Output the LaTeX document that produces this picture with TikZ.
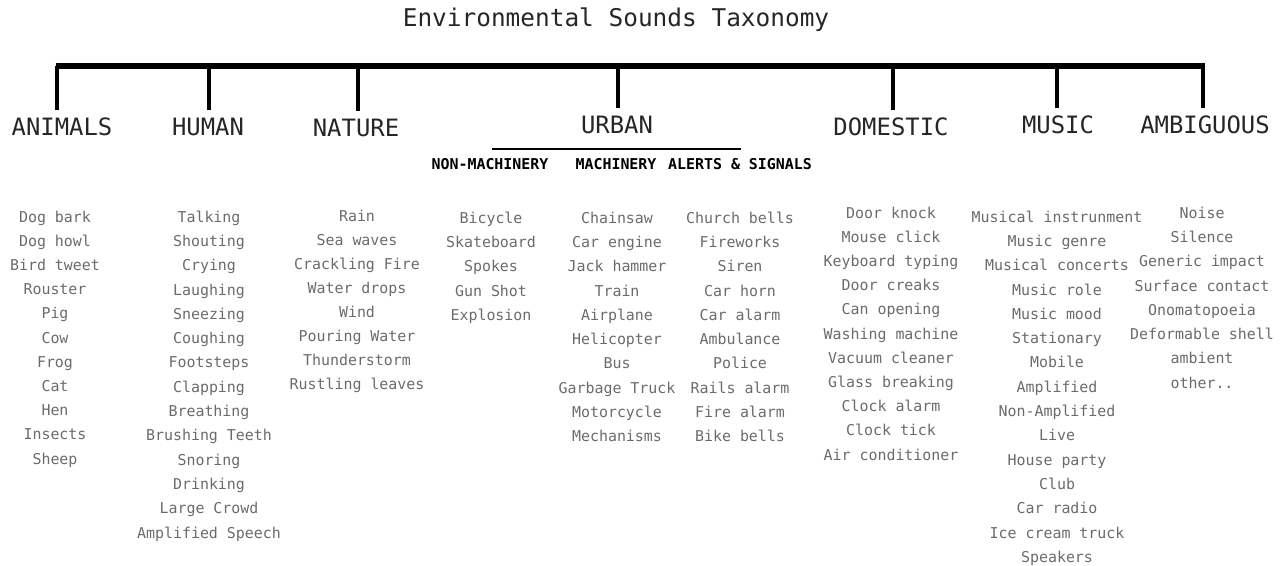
\documentclass[tikz,border=0pt]{standalone}
\usepackage{fontspec}
\setmainfont{DejaVu Sans Mono}
\usepackage{tikz}
\usetikzlibrary{positioning}
\definecolor{textogris}{gray}{0.42}
\definecolor{textocat}{gray}{0.15}

\begin{document}
\begin{tikzpicture}[x=0.02cm, y=-0.02cm] % Estilos de nodos
\tikzstyle{titulo} = [font=\fontsize{13.9}{16}\selectfont, text=textocat, inner sep=0pt]
\tikzstyle{categoria} = [font=\fontsize{13.6}{16}\selectfont, text=textocat, text height=10pt, text depth=0pt, inner xsep=0pt, inner ysep=4.5pt]
\tikzstyle{subcat} = [font=\bfseries\fontsize{8.5}{10}\selectfont, inner sep=1pt]
\tikzstyle{elemento} = [font=\fontsize{8.5}{10}\selectfont, text=textogris, inner sep=0pt, text height=6.5pt, text depth=1.8pt]
\tikzstyle{rama} = [line width=1.8pt]
\useasboundingbox (0,0) rectangle (1280,565);
% Titulo y barra principal
\node (title) [titulo] at (616,20) {Environmental Sounds Taxonomy};
\coordinate (barra-izq) at (55.5,66); \coordinate (barra-der) at (1204.5,66);
\draw[line width=3.4pt] (barra-izq) -- (barra-der);
% Nodos de categorias
\node (animals) [categoria] at (62,127) {ANIMALS}; \node (human) [categoria] at (208,127) {HUMAN}; \node (nature) [categoria] at (356,128) {NATURE}; \node (urban) [categoria] at (617,125) {URBAN}; \node (domestic) [categoria] at (891,127) {DOMESTIC}; \node (music) [categoria] at (1058,125) {MUSIC}; \node (ambiguous) [categoria] at (1205,125) {AMBIGUOUS};
% Ramas desde la barra hasta cada categoria
\foreach \c/\x in {animals/57, human/209, nature/358, urban/618, domestic/893, music/1057, ambiguous/1203}{ \coordinate (b-\c) at (\x,66); \draw[rama] (b-\c) -- (b-\c |- \c.north); }
% Subcategorias de URBAN
\coordinate (urban-izq) at (492,149); \coordinate (urban-der) at (741,149);
\draw[line width=0.9pt] (urban-izq) -- (urban-der);
\node (nonmach) [subcat] at (490,164) {NON-MACHINERY}; \node (mach) [subcat] at (616,164) {MACHINERY}; \node (alerts) [subcat] at (740,164) {ALERTS \& SIGNALS};
% Listas de sonidos
\foreach \t [count=\i] in {Dog bark, Dog howl, Bird tweet, Rouster, Pig, Cow, Frog, Cat, Hen, Insects, Sheep}{ \node (ani-\i) [elemento] at (55,{218+(\i-1)*24.2}) {\t}; }
\foreach \t [count=\i] in {Talking, Shouting, Crying, Laughing, Sneezing, Coughing, Footsteps, Clapping, Breathing, Brushing Teeth, Snoring, Drinking, Large Crowd, Amplified Speech}{ \node (hum-\i) [elemento] at (209,{218+(\i-1)*24.3}) {\t}; }
\foreach \t [count=\i] in {Rain, Sea waves, Crackling Fire, Water drops, Wind, Pouring Water, Thunderstorm, Rustling leaves}{ \node (nat-\i) [elemento] at (357,{217+(\i-1)*24.1}) {\t}; }
\foreach \t [count=\i] in {Bicycle, Skateboard, Spokes, Gun Shot, Explosion}{ \node (nmq-\i) [elemento] at (491,{219+(\i-1)*24.3}) {\t}; }
\foreach \t [count=\i] in {Chainsaw, Car engine, Jack hammer, Train, Airplane, Helicopter, Bus, Garbage Truck, Motorcycle, Mechanisms}{ \node (maq-\i) [elemento] at (617,{219+(\i-1)*24.3}) {\t}; }
\foreach \t [count=\i] in {Church bells, Fireworks, Siren, Car horn, Car alarm, Ambulance, Police, Rails alarm, Fire alarm, Bike bells}{ \node (ale-\i) [elemento] at (740,{219+(\i-1)*24.3}) {\t}; }
\foreach \t [count=\i] in {Door knock, Mouse click, Keyboard typing, Door creaks, Can opening, Washing machine, Vacuum cleaner, Glass breaking, Clock alarm, Clock tick, Air conditioner}{ \node (dom-\i) [elemento] at (891,{214+(\i-1)*24.2}) {\t}; }
\foreach \t [count=\i] in {Musical instrunment, Music genre, Musical concerts, Music role, Music mood, Stationary, Mobile, Amplified, Non-Amplified, Live, House party, Club, Car radio, Ice cream truck, Speakers}{ \node (mus-\i) [elemento] at (1057,{218+(\i-1)*24.3}) {\t}; }
\foreach \t [count=\i] in {Noise, Silence, Generic impact, Surface contact, Onomatopoeia, Deformable shell, ambient, other..}{ \node (amb-\i) [elemento] at (1202,{214+(\i-1)*24.3}) {\t}; }
\end{tikzpicture}
\end{document}
